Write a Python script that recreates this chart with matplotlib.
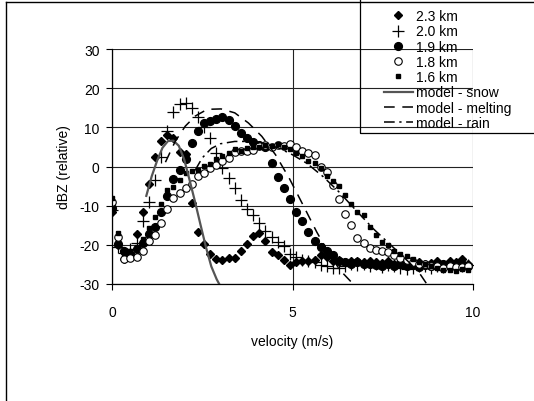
import matplotlib
matplotlib.use("Agg")
import matplotlib.pyplot as plt
from matplotlib.lines import Line2D
from matplotlib.patches import Rectangle

plt.rcParams["font.family"] = ["Liberation Sans", "DejaVu Sans"]
plt.rcParams["axes.unicode_minus"] = False

# -----------------------------
# DATA
# -----------------------------
velocity = [0.00, 0.17, 0.34, 0.51, 0.68, 0.85, 1.02, 1.19, 1.36, 1.53,
            1.70, 1.87, 2.04, 2.21, 2.38, 2.55, 2.72, 2.89, 3.06, 3.23,
            3.40, 3.57, 3.74, 3.91, 4.08, 4.25, 4.42, 4.59, 4.76, 4.93,
            5.10, 5.27, 5.44, 5.61, 5.78, 5.95, 6.12, 6.29, 6.46, 6.63,
            6.80, 6.97, 7.14, 7.31, 7.48, 7.65, 7.82, 7.99, 8.16, 8.33,
            8.50, 8.67, 8.84, 9.01, 9.18, 9.35, 9.52, 9.69, 9.86]

dbz_23 = [-11.5, -20.0, -23.5, -22.0, -17.2, -11.6, -4.5, 2.3, 6.5, 8.0,
          7.3, 3.6, 3.3, -9.3, -16.7, -19.8, -22.3, -23.5, -23.8, -23.4,
          -23.3, -21.6, -19.7, -17.8, -17.1, -19.0, -21.8, -22.6, -23.9, -25.2,
          -24.3, -24.0, -24.2, -23.8, -22.5, -23.0, -24.0, -23.9, -24.4, -24.0,
          -24.2, -24.5, -24.0, -24.3, -24.6, -24.2, -24.8, -24.5, -24.3, -24.9,
          -24.4, -25.0, -24.6, -24.2, -25.1, -24.0, -24.5, -23.5, -24.8]

dbz_20 = [-11.0, -20.5, -22.0, -21.0, -19.5, -14.0, -9.0, -3.5, 2.5, 9.0,
          13.8, 16.0, 16.3, 15.0, 12.7, 10.0, 7.3, 3.5, -0.5, -3.0,
          -5.6, -8.6, -10.8, -12.3, -14.5, -16.5, -18.0, -19.4, -20.3, -22.3,
          -23.1, -23.8, -24.2, -24.5, -25.2, -25.5, -25.8, -26.0, -25.4, -25.0,
          -25.2, -24.8, -25.3, -25.0, -25.6, -25.2, -25.4, -25.8, -26.2, -26.0,
          -25.5, -25.3, -25.8, -25.4, -25.6, -25.0, -25.3, -25.5, -25.2]

dbz_19 = [-10.5, -19.8, -21.5, -22.5, -21.0, -19.5, -17.2, -15.5, -11.5, -7.5,
          -3.3, -1.0, 2.0, 6.0, 9.0, 11.0, 11.6, 12.2, 12.6, 12.0,
          10.3, 8.5, 7.4, 6.3, 5.5, 5.1, 1.0, -2.8, -5.4, -8.4,
          -11.6, -13.8, -16.7, -19.0, -20.6, -21.5, -22.5, -24.0, -24.5, -24.8,
          -24.5, -25.0, -24.8, -25.2, -25.5, -25.0, -25.3, -24.9, -25.4, -25.2,
          -25.6, -25.1, -25.5, -25.3, -25.0, -25.4, -25.2, -24.8, -25.5]

dbz_18 = [-9.0, -18.0, -23.5, -23.4, -23.0, -21.6, -19.1, -17.6, -14.3, -10.9,
          -8.0, -6.8, -5.6, -4.5, -2.3, -1.7, -0.4, 0.4, 1.3, 2.1,
          3.7, 3.9, 3.9, 4.3, 5.3, 5.5, 4.9, 5.6, 5.3, 5.8,
          4.9, 4.0, 3.4, 2.9, -0.2, -1.3, -4.8, -8.2, -12.1, -15.0,
          -18.3, -19.5, -20.8, -21.3, -21.5, -21.9, -22.6, -23.3, -23.8, -24.3,
          -24.8, -25.0, -25.3, -25.5, -25.8, -25.4, -25.7, -25.6, -25.5]

dbz_16 = [-8.0, -17.0, -22.0, -21.5, -20.5, -18.5, -15.8, -13.0, -9.5, -6.0,
          -5.2, -3.5, -1.6, -1.2, -0.8, 0.2, 0.6, 2.0, 2.8, 3.5,
          4.5, 4.0, 4.8, 5.0, 5.0, 5.5, 5.2, 5.8, 5.0, 4.4,
          3.5, 2.7, 1.5, 1.0, -0.5, -2.5, -3.8, -5.0, -7.3, -9.5,
          -11.5, -12.3, -15.5, -17.5, -19.2, -20.0, -21.5, -22.3, -22.8, -23.5,
          -24.5, -25.0, -25.5, -25.8, -26.5, -26.3, -26.8, -26.2, -26.5]

snow_v = [0.95, 1.10, 1.25, 1.40, 1.55, 1.70, 1.85, 2.00, 2.15, 2.30,
          2.45, 2.60, 2.75, 2.90, 2.97]
snow_dbz = [-7.5, -2.5, 1.5, 4.8, 6.5, 6.6, 5.3, 1.8, -3.5, -9.0,
            -14.8, -20.5, -25.5, -28.8, -30.0]

melt_v = [1.48, 1.75, 2.03, 2.31, 2.64, 3.02, 3.40, 3.78, 4.15, 4.53,
          4.91, 5.29, 5.67, 6.04, 6.33, 6.68]
melt_dbz = [1.1, 6.4, 10.3, 12.9, 14.6, 14.7, 13.7, 11.1, 7.7, 3.0,
            -3.0, -9.8, -16.7, -22.7, -26.6, -30.0]

rain_v = [2.30, 2.50, 2.75, 3.00, 3.40, 3.80, 4.20, 4.60, 5.00, 5.40,
          5.85, 6.30, 6.80, 7.25, 7.75, 8.20, 8.50, 8.72]
rain_dbz = [-1.0, 2.2, 4.6, 5.8, 6.4, 6.4, 5.8, 4.8, 3.0, 0.8,
            -2.6, -6.6, -11.6, -16.0, -20.3, -24.2, -27.0, -30.0]

# -----------------------------
# FIGURE
# -----------------------------
fig = plt.figure(figsize=(5.34, 4.02), dpi=100)
ax = fig.add_axes([112 / 534, 1 - 285 / 402, 361 / 534, 235 / 402])

ax.plot(velocity, dbz_23, linestyle="none", marker="D", ms=4.4, color="black", label="2.3 km")
ax.plot(velocity, dbz_20, linestyle="none", marker="+", ms=8.5, mew=0.9, color="black", label="2.0 km")
ax.plot(velocity, dbz_19, linestyle="none", marker="o", ms=5.6, color="black", label="1.9 km")
ax.plot(velocity, dbz_18, linestyle="none", marker="o", ms=5.4, mfc="white", mec="black", mew=0.8,
        label="1.8 km")
ax.plot(velocity, dbz_16, linestyle="none", marker="s", ms=3.4, color="black", label="1.6 km")

ax.plot(snow_v, snow_dbz, color="#555555", lw=1.6, label="model - snow")
ax.plot(melt_v, melt_dbz, color="black", lw=1.1, dashes=(7, 5), label="model - melting")
ax.plot(rain_v, rain_dbz, color="black", lw=1.1, dashes=(7, 3, 1.5, 3), label="model - rain")

ax.set_xlim(0, 10)
ax.set_ylim(-30, 30)
ax.set_xticks([0, 5, 10])
ax.set_yticks([-30, -20, -10, 0, 10, 20, 30])
ax.grid(True, color="#222222", lw=0.8)
ax.set_axisbelow(True)
for side in ["top", "right"]:
    ax.spines[side].set_visible(False)
for side in ["left", "bottom"]:
    ax.spines[side].set_linewidth(0.9)
ax.tick_params(direction="out", length=4, width=0.8, labelsize=10, pad=5)
ax.tick_params(axis="x", pad=11)

ax.set_xlabel("velocity (m/s)", fontsize=10, labelpad=11)
ax.set_ylabel("dBZ (relative)", fontsize=10, labelpad=6)

# -----------------------------
# LEGEND + OUTER FRAME
# -----------------------------
handles, labels = ax.get_legend_handles_labels()
leg = fig.legend(handles, labels, loc="upper left", bbox_to_anchor=(374 / 534, 0.999),
                 frameon=False, fontsize=10, handlelength=2.1, handletextpad=0.2,
                 labelspacing=0.09, borderpad=0.2)

fig.patches.append(Rectangle((359.5 / 534, 1 - 133.7 / 402), 0.5, 0.5,
                             transform=fig.transFigure, fill=False, ec="black", lw=0.9))
fig.lines.append(Line2D([6 / 534, 6 / 534], [0, 1 - 3 / 402], transform=fig.transFigure,
                        color="black", lw=1))
fig.lines.append(Line2D([6 / 534, 1], [1 - 3 / 402, 1 - 3 / 402], transform=fig.transFigure,
                        color="black", lw=1))

fig.savefig("out.png", dpi=100)
